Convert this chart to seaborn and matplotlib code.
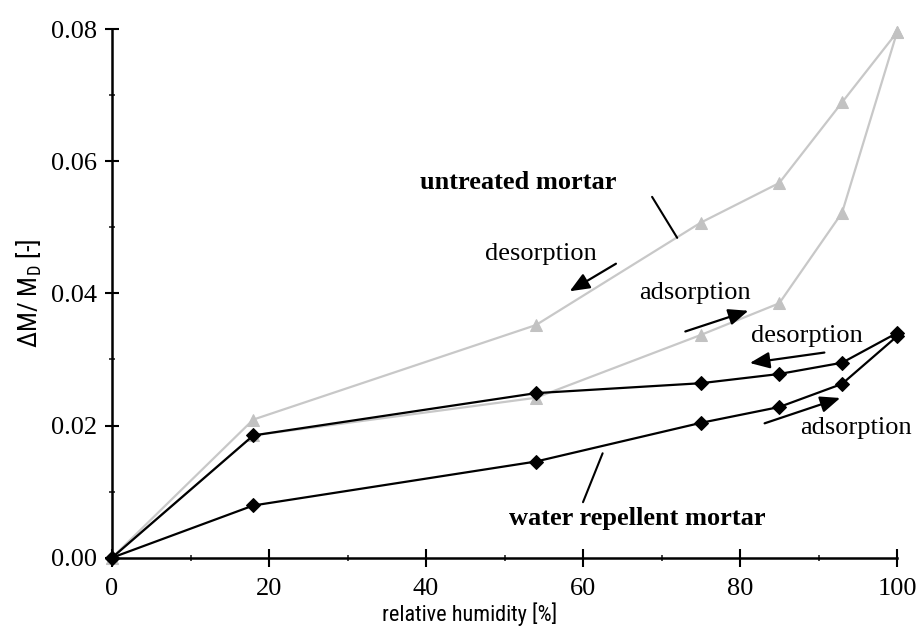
import matplotlib
matplotlib.use("Agg")
import matplotlib.pyplot as plt
import seaborn as sns
from matplotlib import font_manager
from matplotlib.ticker import MultipleLocator, FormatStrFormatter

# ---- data ----
rh = [0, 18, 54, 75, 85, 93, 100]
untreated_ads = [0.0, 0.0185, 0.0242, 0.0337, 0.0385, 0.0522, 0.0795]
untreated_des = [0.0, 0.0209, 0.0352, 0.0507, 0.0567, 0.0689, 0.0795]
repellent_ads = [0.0, 0.0079, 0.01455, 0.0204, 0.0228, 0.0263, 0.0335]
repellent_des = [0.0, 0.0185, 0.0249, 0.0264, 0.0278, 0.0295, 0.0340]
x_ticks = [0, 20, 40, 60, 80, 100]
y_ticks = [0.00, 0.02, 0.04, 0.06, 0.08]

sns.set_theme(style="white")
plt.rcParams['font.family'] = ['Liberation Serif', 'DejaVu Serif']

narrow = None
for cand in ('Liberation Sans Narrow', 'Arial Narrow', 'Roboto Condensed'):
    try:
        font_manager.findfont(cand, fallback_to_default=False)
        narrow = cand
        break
    except Exception:
        pass
label_font = narrow if narrow else 'Liberation Sans'
xlabel_size = 16 if narrow else 14
ylabel_size = 19 if narrow else 16

plt.rcParams['mathtext.fontset'] = 'custom'
plt.rcParams['mathtext.rm'] = label_font
plt.rcParams['mathtext.default'] = 'regular'

fig = plt.figure(figsize=(9.17, 6.31), dpi=100)
ax = fig.add_axes([112/917, 1 - 557.7/631, 785/917, 528.7/631])

gray = '#c8c8c8'
for ys in (untreated_ads, untreated_des):
    sns.lineplot(x=rh, y=ys, ax=ax, color=gray, linewidth=1.6, marker='^',
                 markersize=9, markeredgecolor='#c2c2c2', markerfacecolor='#c2c2c2',
                 sort=False, clip_on=False, zorder=2)
for ys in (repellent_ads, repellent_des):
    sns.lineplot(x=rh, y=ys, ax=ax, color='black', linewidth=1.6, marker='D',
                 markersize=7.5, markeredgecolor='black', markerfacecolor='black',
                 sort=False, clip_on=False, zorder=3)

ax.set_xlim(0, 100)
ax.set_ylim(0, 0.08)
ax.set_xticks(x_ticks)
ax.set_yticks(y_ticks)
ax.xaxis.set_minor_locator(MultipleLocator(10))
ax.yaxis.set_minor_locator(MultipleLocator(0.01))
ax.yaxis.set_major_formatter(FormatStrFormatter('%.2f'))
for s in ('top', 'right'):
    ax.spines[s].set_visible(False)
for s in ('left', 'bottom'):
    ax.spines[s].set_linewidth(1.8)
    ax.spines[s].set_color('black')
ax.tick_params(axis='x', which='major', direction='inout', length=13, width=1.5,
               pad=8, labelsize=19, colors='black', bottom=True)
ax.tick_params(axis='x', which='minor', direction='inout', length=5, width=1.2, bottom=True)
ax.tick_params(axis='y', which='major', direction='inout', length=10, width=1.5,
               pad=6, labelsize=19, colors='black', left=True)
ax.tick_params(axis='y', which='minor', direction='inout', length=5, width=1.2, left=True)
ax.grid(False)

ax.set_xlabel('relative humidity [%]', family=[label_font], fontsize=xlabel_size, color='black')
ax.xaxis.set_label_coords(0.456, -0.085)
ax.set_ylabel('ΔM/ M$_{D}$ [-]', family=[label_font], fontsize=ylabel_size, color='black')
ax.yaxis.set_label_coords(-0.087, 0.5)

fs = 19
arrow = dict(arrowstyle='-|>,head_length=0.6,head_width=0.25', color='black', lw=1.6,
             mutation_scale=20)
ax.text(51.7, 0.0568, 'untreated mortar', ha='center', va='center', fontsize=fs,
        fontweight='bold', color='black')
ax.plot([68.8, 72.0], [0.0546, 0.0484], color='black', lw=1.5)
ax.text(54.6, 0.0459, 'desorption', ha='center', va='center', fontsize=fs, color='black')
ax.annotate('', xy=(58.0, 0.0401), xytext=(64.5, 0.0447), arrowprops=arrow)
ax.text(74.3, 0.0400, 'adsorption', ha='center', va='center', fontsize=fs, color='black')
ax.annotate('', xy=(81.4, 0.0375), xytext=(72.7, 0.0341), arrowprops=arrow)
ax.text(88.5, 0.0335, 'desorption', ha='center', va='center', fontsize=fs, color='black')
ax.annotate('', xy=(80.9, 0.0294), xytext=(91.1, 0.0311), arrowprops=arrow)
ax.text(94.8, 0.0196, 'adsorption', ha='center', va='center', fontsize=fs, color='black',
        clip_on=False)
ax.annotate('', xy=(93.1, 0.0243), xytext=(82.8, 0.0202), arrowprops=arrow)
ax.text(66.9, 0.0060, 'water repellent mortar', ha='center', va='center', fontsize=fs,
        fontweight='bold', color='black')
ax.plot([60.0, 62.5], [0.0084, 0.0158], color='black', lw=1.5)

fig.savefig('out.png', dpi=100)
